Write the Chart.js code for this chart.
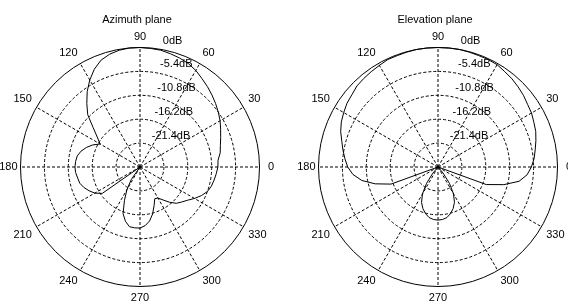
<!DOCTYPE html>
<html>
<head>
<meta charset="utf-8">
<title>Azimuth / Elevation plane</title>
<script src="https://cdn.jsdelivr.net/npm/chart.js@4.4.1/dist/chart.umd.min.js"></script>
<style>
  html, body { margin: 0; padding: 0; background: #fff; overflow: hidden; }
  #wrap { position: relative; width: 568px; height: 302px; overflow: hidden; }
  canvas { position: absolute; top: 0; }
  #azimuthChart { left: -5px; }
  #elevationChart { left: 293px; }
</style>
</head>
<body>
<div id="wrap">
  <canvas id="azimuthChart" width="284" height="304"></canvas>
  <canvas id="elevationChart" width="284" height="304"></canvas>
</div>
<script>
// sample angles in degrees (0 = right, counter-clockwise, like the MATLAB polar plot)
const angles = [
  0, 5, 10, 15, 20, 25, 30, 35, 40, 45, 50, 55,
  60, 65, 70, 75, 80, 85, 90, 95, 100, 105, 110, 115,
  120, 125, 130, 135, 140, 145, 150, 155, 160, 165, 170, 175,
  180, 185, 190, 195, 200, 205, 210, 215, 220, 225, 230, 235,
  240, 245, 250, 255, 260, 265, 270, 275, 280, 285, 290, 295,
  300, 305, 310, 315, 320, 325, 330, 335, 340, 345, 350, 355
];

// gain in dB, -27 = centre of the plot
const azimuthGain = [
  -9.4, -9.3, -8.6, -8.2, -7.6, -6.9, -6.1, -5.4, -4.7, -4.0, -3.3, -2.6,
  -1.8, -1.2, -0.8, -0.5, -0.2, -0.1, 0.0, 0.0, -0.2, -0.6, -1.3, -2.6,
  -4.3, -6.2, -8.3, -10.3, -13.2, -15.2, -16.6, -15.2, -14.1, -13.2, -12.6, -12.4,
  -12.3, -12.4, -12.7, -12.9, -13.5, -14.3, -15.2, -16.6, -27, -27, -27, -23.6,
  -21.1, -18.7, -15.8, -14.3, -13.3, -13.2, -13.2, -13.7, -14.6, -16.0, -17.7, -19.1,
  -18.9, -17.9, -16.6, -15.4, -14.7, -13.9, -12.8, -11.7, -10.8, -10.3, -10.0, -9.7
];

const elevationGain = [
  -5.9, -5.2, -4.7, -4.1, -3.5, -3.1, -2.6, -2.3, -1.8, -1.4, -1.0, -0.7,
  -0.3, -0.2, -0.2, -0.1, 0.0, 0.0, 0.0, 0.0, 0.0, -0.1, -0.2, -0.2,
  -0.5, -0.7, -0.9, -1.1, -1.6, -1.9, -2.4, -2.9, -3.6, -4.5, -5.2, -5.9,
  -6.6, -7.7, -9.5, -12.3, -15.7, -27, -27, -27, -27, -27, -25.2, -22.5,
  -20.0, -18.2, -17.0, -16.1, -15.4, -15.1, -15.0, -15.1, -15.4, -16.1, -17.0, -18.2,
  -20.0, -22.5, -25.2, -27, -27, -27, -27, -27, -15.4, -11.6, -8.4, -6.8
];

// axis: rings and spokes
const rMin = -27;
const rMax = 0;
const ringStep = 5.4;
const ringValues = [-21.6, -16.2, -10.8, -5.4, 0];
const ringLabels = ['-21.4dB', '-16.2dB', '-10.8dB', '-5.4dB', '0dB'];
const spokeAngles = [0, 30, 60, 90, 120, 150, 180, 210, 240, 270, 300, 330];

const FONT = "'Liberation Sans', Arial, Helvetica, sans-serif";
Chart.defaults.font.family = FONT;
Chart.defaults.color = '#000';

// radar starts at the top and runs clockwise, so reorder the samples
const radarAngles = angles.map(a => (450 - a) % 360);
const toRadar = values => radarAngles.map(a => values[angles.indexOf(a)]);

// dB labels of the rings, set just right of the 90 spoke
const dbLabelsPlugin = {
    id: 'dbLabels',
    afterDatasetsDraw(chart) {
        const s = chart.scales.r;
        const ctx = chart.ctx;
        ctx.save();
        ctx.font = '11px ' + FONT;
        ctx.fillStyle = '#000';
        ctx.textAlign = 'left';
        ctx.textBaseline = 'middle';
        ringValues.forEach((v, i) => {
            const d = s.getDistanceFromCenterForValue(v);
            ctx.fillText(ringLabels[i], s.xCenter + 9 + d * 0.116, s.yCenter - d - 7);
        });
        ctx.restore();
    }
};

function createPolar(canvasId, title, gain) {
    const canvas = document.getElementById(canvasId);
    return new Chart(canvas.getContext('2d'), {
        type: 'radar',
        data: {
            labels: radarAngles,
            datasets: [{
                data: toRadar(gain),
                borderColor: '#000',
                backgroundColor: 'transparent',
                borderWidth: 1,
                pointRadius: 0,
                fill: false,
                tension: 0
            }]
        },
        options: {
            responsive: false,
            animation: false,
            events: [],
            layout: { padding: 0 },
            plugins: {
                legend: { display: false },
                tooltip: { enabled: false },
                title: {
                    display: true,
                    text: title,
                    color: '#000',
                    font: { size: 11, weight: 'normal', lineHeight: 1.2 },
                    padding: { top: 13.4, bottom: 4.4 }
                }
            },
            scales: {
                r: {
                    min: rMin,
                    max: rMax,
                    ticks: { display: false, stepSize: ringStep },
                    grid: {
                        circular: true,
                        color: '#000',
                        lineWidth: 1
                    },
                    border: {
                        dash: ctx => (ctx.tick && ctx.tick.value === rMax) ? [] : [3, 2]
                    },
                    angleLines: {
                        display: true,
                        lineWidth: 1,
                        borderDash: [3, 2],
                        color: ctx => spokeAngles.includes(radarAngles[ctx.index]) ? '#000' : null
                    },
                    pointLabels: {
                        display: true,
                        color: '#000',
                        font: { size: 11, lineHeight: 1 },
                        padding: ctx => ctx.label === '0' ? 8.5 : (ctx.label === '180' ? 3 : 5.5),
                        callback: label => spokeAngles.includes(Number(label)) ? String(label) : ''
                    }
                }
            }
        },
        plugins: [dbLabelsPlugin]
    });
}

createPolar('azimuthChart', 'Azimuth plane', azimuthGain);
createPolar('elevationChart', 'Elevation plane', elevationGain);
</script>
</body>
</html>
